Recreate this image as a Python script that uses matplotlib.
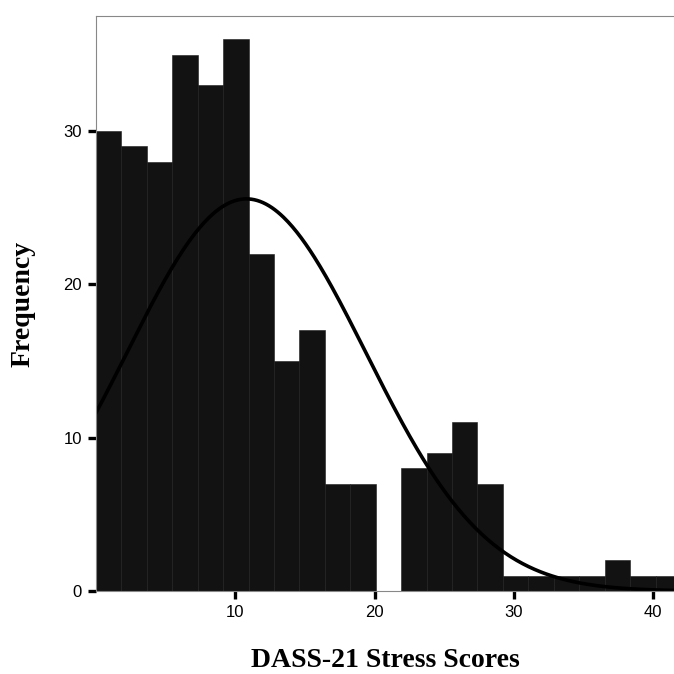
import numpy as np
from matplotlib import pyplot as plt

# Istogramma DASS-21 Stress con curva normale
bin_start = 0.0
bin_stop = 42.0
conteggi = [30, 29, 28, 35, 33, 36, 22, 15, 17, 7, 7, 0,
            8, 9, 11, 7, 1, 1, 1, 1, 2, 1, 1]
media = 10.8
dev_std = 8.6
x_ticks = [10, 20, 30, 40]
y_ticks = [0, 10, 20, 30]

n_bin = len(conteggi)
bordi = np.linspace(bin_start, bin_stop, n_bin + 1)
larghezza = bordi[1] - bordi[0]
totale = sum(conteggi)

fig = plt.figure(figsize=(6.74, 6.74), dpi=100)
ax = fig.add_axes([0.1424, 0.123, 0.8576, 0.853])

ax.bar(bordi[:-1], conteggi, width=larghezza, align='edge',
       color='#121212', edgecolor='#1c1c1c', linewidth=0.4)

# curva normale scalata sulle frequenze
xs = np.linspace(bin_start, bin_stop, 400)
ys = totale * larghezza / (dev_std * np.sqrt(2 * np.pi)) * np.exp(-0.5 * ((xs - media) / dev_std) ** 2)
ax.plot(xs, ys, color='black', linewidth=2.6)

ax.set_xlim(0, 41.5)
ax.set_ylim(0, 37.5)
ax.set_xticks(x_ticks)
ax.set_yticks(y_ticks)

for lato in ['left', 'top', 'bottom']:
    ax.spines[lato].set_color('#888888')
    ax.spines[lato].set_linewidth(0.8)
ax.spines['right'].set_visible(False)

ax.tick_params(axis='both', direction='out', length=6, width=2.4, color='black',
               labelsize=12, pad=4)
for lab in ax.get_xticklabels() + ax.get_yticklabels():
    lab.set_family('Liberation Sans')

ax.set_xlabel('DASS-21 Stress Scores', family='Liberation Serif', fontweight='bold',
              fontsize=20, labelpad=20)
ax.set_ylabel('Frequency', family='Liberation Serif', fontweight='bold',
              fontsize=20, labelpad=20)

plt.savefig('out.png', dpi=100)
